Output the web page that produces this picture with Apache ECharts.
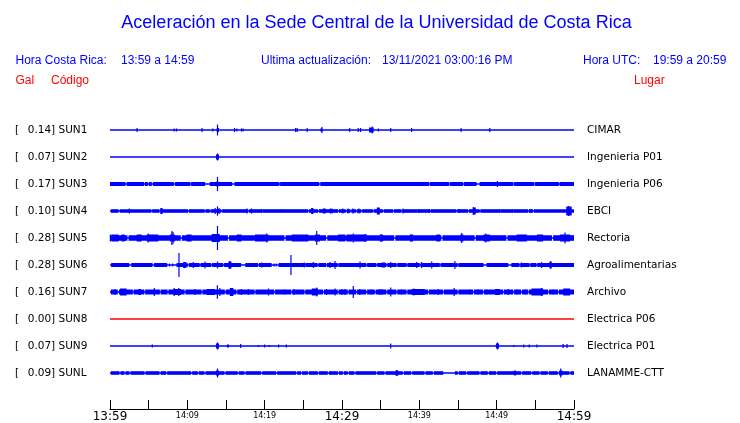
<!DOCTYPE html>
<html>
<head>
<meta charset="utf-8">
<script src="https://cdn.jsdelivr.net/npm/echarts@6/dist/echarts.min.js"></script>
<style>html,body{margin:0;padding:0;background:#fff}#c{width:740px;height:423px}</style>
</head>
<body>
<div id="c"></div>
<script>
// ---- data (time in minutes after 13:59, amplitude in relative units) ----
const codes  = ['SUN1','SUN2','SUN3','SUN4','SUN5','SUN6','SUN7','SUN8','SUN9','SUNL'];
const gal    = [0.14, 0.07, 0.17, 0.10, 0.28, 0.28, 0.16, 0.00, 0.07, 0.09];
const places = ['CIMAR','Ingenieria P01','Ingenieria P06','EBCI','Rectoria','Agroalimentarias','Archivo','Electrica P06','Electrica P01','LANAMME-CTT'];
const tickLabels = ['13:59','14:09','14:19','14:29','14:39','14:49','14:59'];
const noise  = [0, 0, 2.0, 1.8, 2.8, 2.0, 2.5, 0, 0, 1.8];

const SUN1_bursts = [[13.8,14.1,2],[27.2,27.5,1.5],[33.5,34.1,2.5]];
const SUN1_spikes = [[3.5,2],[8.3,1.5],[8.6,1.5],[11.9,2],[13.3,1.5],[13.9,5.5],[16.1,2],[16.4,1.5],[17.0,1.5],[17.2,1.5],[24.0,2],[24.2,2],[25.5,2],[27.4,3],[31.0,2],[32.1,2],[32.4,2],[33.9,3.5],[34.7,1.5],[36.3,2],[39.0,2],[45.4,2],[49.1,2]];

const SUN2_bursts = [[13.7,14.1,2.5]];
const SUN2_spikes = [[13.9,3.5]];

const SUN3_segs = [[0,2.0],[2.15,4.4],[4.5,4.9],[5.0,5.4],[5.55,8.25],[8.4,10.4],[10.5,12.3],[12.9,15.8],[16.1,21.9],[22.0,27.05],[27.2,41.25],[41.35,43.85],[43.95,45.65],[45.75,47.4],[47.8,52.15],[52.25,54.85],[54.95,58.05],[58.15,60]];
const SUN3_bursts = [[13.8,14.0,3]];
const SUN3_spikes = [[13.9,7],[50.1,3]];

const SUN4_segs = [[0.1,1.1],[1.25,5.35],[5.45,6.4],[6.55,10.1],[10.2,12.25],[12.35,12.9],[13.0,14.4],[14.5,17.85],[17.95,19.55],[19.7,22.15],[22.25,25.6],[25.7,26.9],[27.0,29.5],[29.6,30.5],[30.6,31.1],[31.2,31.8],[31.9,32.5],[32.6,34.0],[34.1,35.3],[35.4,36.6],[36.7,37.7],[37.8,39.8],[39.95,41.35],[41.45,42.85],[42.95,44.8],[44.9,46.3],[46.4,47.8],[47.9,50.4],[50.5,52.1],[52.2,54.05],[54.15,54.7],[54.8,60]];
const SUN4_bursts = [[6.5,6.8,3],[26.0,26.3,3],[27.5,27.9,2.5],[34.5,34.9,3.5],[46.9,47.3,3.5],[59.0,59.7,4.5]];
const SUN4_spikes = [[2.5,2.5],[13.6,3],[13.9,4.7],[14.1,3],[17.7,2.5],[18.3,2.5],[19.6,2],[22.2,2],[28.5,2.5],[28.7,2.5],[30.1,2.5],[30.8,2.5],[31.4,2.5],[32.2,2.5],[37.9,2.5],[39.9,2],[41.3,2],[42.9,2],[45.1,2],[47.0,4],[50.4,2],[52.1,2],[54.3,2],[59.3,5]];

const SUN5_segs = [[0,2.25],[2.4,9.15],[9.3,15.25],[15.4,22.55],[22.7,27.95],[28.1,36.75],[36.9,42.85],[43.0,47.15],[47.3,51.25],[51.4,57.15],[57.3,60]];
const SUN5_bursts = [[0.2,1.1,3.5],[1.5,1.9,3.5],[3.45,4.1,3.5],[4.75,6.25,3.5],[7.76,8.4,3.5],[9.9,10.55,3.5],[13.15,14.2,4],[16.4,17.0,3.5],[18.75,20.5,3.5],[23.5,25.65,3.5],[26.5,27.15,3.5],[29.5,30.4,3.5],[30.6,33.2,3.5],[34.9,35.3,3.5],[38.8,39.2,3.5],[42.2,42.7,3.5],[45.3,45.7,3.5],[48.3,49.1,3.5],[52.6,53.9,3.5],[55.2,56.0,3.5],[58.2,59.5,3.5]];
const SUN5_spikes = [[0.05,3.5],[4.96,4.5],[8.0,7],[8.15,6],[13.3,4],[13.9,12],[20.26,4.5],[26.73,7],[31.46,4.5],[33.0,4],[35.0,3.5],[38.9,3.5],[45.48,5],[48.58,4.5],[58.84,5.5]];

const SUN6_segs = [[0.15,2.5],[2.75,5.5],[5.7,7.4],[8.6,10.05],[10.2,11.6],[11.7,13.1],[13.2,14.6],[14.7,16.95],[17.5,19.15],[19.25,20.9],[21.8,25.15],[25.25,26.85],[26.95,27.95],[28.05,29.45],[29.55,33.15],[33.25,34.45],[34.55,35.75],[35.85,37.05],[37.15,38.35],[38.45,40.05],[40.15,42.65],[42.75,44.95],[45.05,48.3],[48.7,51.5],[51.9,52.95],[53.05,54.25],[54.35,55.15],[55.25,60]];
const SUN6_bursts = [[9.5,9.8,3],[15.3,15.7,3.5],[35.1,35.6,2.5],[56.8,57.1,3]];
const SUN6_spikes = [[7.7,1.5],[8.1,1.5],[8.92,12],[9.57,3],[9.8,3],[10.77,3],[12.28,3.5],[13.9,3.5],[15.52,4],[19.62,2.5],[21.2,1.5],[21.5,1.5],[23.4,10],[25.13,2.5],[26.29,3],[28.45,3],[29.1,4],[32.33,3.5],[36.3,3],[39.66,3],[40.3,3],[41.6,3.5],[44.6,4],[53.2,2.5],[55.8,3],[57.0,4]];

const SUN7_segs = [[0.1,1.0],[1.15,2.95],[3.05,4.45],[4.55,6.45],[6.55,7.45],[7.55,9.65],[9.75,11.85],[11.95,14.85],[14.95,16.35],[16.45,18.7],[18.8,21.25],[21.35,23.45],[23.55,25.15],[25.25,27.55],[27.65,29.45],[29.55,30.75],[30.85,31.85],[31.95,33.15],[33.25,34.25],[34.35,35.75],[35.85,37.05],[37.15,38.35],[38.45,41.15],[41.25,43.05],[43.15,44.95],[45.05,46.95],[47.05,48.25],[48.35,50.85],[50.95,52.15],[52.25,53.15],[53.25,54.05],[54.15,56.65],[56.75,57.95],[58.05,60]];
const SUN7_bursts = [[1.3,2.15,3.5],[3.66,4.0,3],[8.2,9.2,3],[12.5,13.6,3],[15.5,15.95,4],[26.1,26.9,3.5],[34.7,35.3,2.5],[39.0,40.7,3],[49.8,50.4,3],[54.5,56.0,3.5],[58.6,59.5,3.5]];
const SUN7_spikes = [[0.65,3],[5.73,4],[8.3,4],[8.9,4],[11.0,3],[13.88,6.7],[14.2,4],[17.0,3],[17.9,3],[20.5,3.5],[22.6,2.5],[23.8,3],[26.73,4.5],[28.0,3],[29.1,3.5],[30.0,3],[30.4,3],[31.46,6],[32.3,3],[33.8,2.5],[36.3,4.5],[37.7,2.5],[39.3,3.5],[42.45,3],[44.5,4],[46.55,2.5],[47.6,2.5],[48.7,2.5],[51.5,3],[52.6,2.5],[53.7,2.5],[55.8,4],[57.3,2.5]];

const SUN9_bursts = [[13.7,14.1,2.5],[15.1,15.4,1.5],[49.9,50.3,2.5]];
const SUN9_spikes = [[5.47,1.5],[13.9,3.5],[16.9,2],[19.2,1],[20.0,1.5],[20.6,1],[21.8,1.5],[22.8,1.5],[36.3,2.5],[50.1,3.5],[52.2,1],[53.5,1.5],[54.2,1.5],[55.2,1.5],[58.6,2],[59.1,2]];

const SUNL_segs = [[0.1,1.22],[1.36,1.87],[2.01,2.52],[2.66,4.46],[4.6,6.4],[6.54,7.26],[7.4,10.49],[10.63,11.35],[11.49,12.21],[12.35,14.8],[14.94,16.52],[16.66,17.39],[17.53,19.54],[19.68,21.48],[21.62,24.07],[24.21,24.71],[24.85,25.58],[25.72,26.87],[27.01,28.16],[28.3,29.46],[29.6,30.1],[30.24,30.75],[30.89,31.61],[31.75,34.42],[34.56,35.49],[35.63,37.86],[38.0,38.94],[39.08,40.66],[40.8,41.74],[41.88,43.1],[44.6,44.97],[45.11,46.05],[46.19,47.77],[47.91,48.85],[48.99,49.93],[50.07,53.16],[53.3,54.46],[54.6,55.53],[55.67,56.61],[56.75,57.9],[58.04,59.41],[59.55,60]];
const SUNL_bursts = [[13.7,14.1,2.5],[36.9,37.3,2.5],[52.2,52.5,2.2],[58.1,58.5,2.5]];
const SUNL_spikes = [[13.9,4.5],[37.07,3],[52.37,2.5],[58.28,4.5]];

const traceSegs   = [[], [], SUN3_segs, SUN4_segs, SUN5_segs, SUN6_segs, SUN7_segs, [], [], SUNL_segs];
const traceBursts = [SUN1_bursts, SUN2_bursts, SUN3_bursts, SUN4_bursts, SUN5_bursts, SUN6_bursts, SUN7_bursts, [], SUN9_bursts, SUNL_bursts];
const traceSpikes = [SUN1_spikes, SUN2_spikes, SUN3_spikes, SUN4_spikes, SUN5_spikes, SUN6_spikes, SUN7_spikes, [], SUN9_spikes, SUNL_spikes];

// ---- chart ----
const BLUE = '#0000ff', RED = '#ff0000';
const FONT = 'DejaVu Sans', HFONT = 'Liberation Sans';
const REF_BAND = 27; // amplitude units per channel spacing

function buildItems(i) {
  const items = [];
  traceSegs[i].forEach(s => items.push([s[0], s[1], noise[i], i]));
  traceBursts[i].forEach(b => items.push([b[0], b[1], b[2], i]));
  traceSpikes[i].forEach(p => items.push([p[0], p[0], p[1], i]));
  return items;
}

function renderTrace(color) {
  return function (params, api) {
    const t0 = api.value(0), t1 = api.value(1), a = api.value(2), idx = api.value(3);
    const p0 = api.coord([t0, idx]);
    const p1 = api.coord([t1, idx]);
    const band = api.size([0, 1])[1];
    const h = a * band / REF_BAND;
    let x = p0[0], w = p1[0] - p0[0];
    if (w < 1.2) { x = p0[0] - 0.6; w = 1.2; }
    return { type: 'rect', shape: { x: x, y: p0[1] - h, width: w, height: 2 * h }, style: { fill: color } };
  };
}

const series = [];
codes.forEach((c, i) => {
  const color = gal[i] === 0 ? RED : BLUE;
  series.push({
    type: 'line', name: c + '-base', data: [[0, i], [60, i]], symbol: 'none', silent: true,
    lineStyle: { color: color, width: 1.5 }, animation: false
  });
  series.push({
    type: 'custom', name: c, data: buildItems(i), renderItem: renderTrace(color),
    encode: { x: [0, 1], y: 3 }, animation: false, silent: true
  });
});

const chart = echarts.init(document.getElementById('c'), null, { renderer: 'canvas' });
chart.setOption({
  animation: false,
  backgroundColor: '#fff',
  grid: { left: 110, right: 166, top: 116.5, bottom: 36.5 },
  xAxis: {
    type: 'value', min: 0, max: 60, interval: 5, offset: 22.5,
    axisLine: { show: true, lineStyle: { color: '#000', width: 1 } },
    axisTick: { show: true, inside: true, length: 9, lineStyle: { color: '#000', width: 1 } },
    splitLine: { show: false },
    axisLabel: {
      margin: 2, showMinLabel: true, showMaxLabel: true, hideOverlap: false,
      formatter: function (v) {
        if (v % 30 === 0) return '{big|' + tickLabels[v / 10] + '}';
        if (v % 10 === 0) return '{small|' + tickLabels[v / 10] + '}';
        return '';
      },
      rich: {
        big: { fontFamily: FONT, fontSize: 12, color: '#000' },
        small: { fontFamily: FONT, fontSize: 8, color: '#000', padding: [1, 0, 0, 0] }
      }
    }
  },
  yAxis: [{
    type: 'category', data: codes, inverse: true,
    axisLine: { show: false }, axisTick: { show: false }, splitLine: { show: false },
    axisLabel: {
      margin: 95, align: 'left',
      formatter: function (v, i) { return '{br|[}{v|' + gal[i].toFixed(2) + '] ' + v + '}'; },
      rich: {
        br: { fontFamily: FONT, fontSize: 10.5, color: '#000', width: 12.7 },
        v: { fontFamily: FONT, fontSize: 10.5, color: '#000' }
      }
    }
  }, {
    type: 'category', data: places, inverse: true, position: 'right',
    axisLine: { show: false }, axisTick: { show: false }, splitLine: { show: false },
    axisLabel: { margin: 13, align: 'left', fontFamily: FONT, fontSize: 10.5, color: '#000' }
  }],
  graphic: [
    { type: 'text', x: 376.5, y: 23, style: { text: 'Aceleración en la Sede Central de la Universidad de Costa Rica', fill: BLUE, font: '18px "' + HFONT + '"', textAlign: 'center', textVerticalAlign: 'middle' } },
    { type: 'text', x: 15.5, y: 61, style: { text: 'Hora Costa Rica:', fill: BLUE, font: '12px "' + HFONT + '"', textVerticalAlign: 'middle' } },
    { type: 'text', x: 121, y: 61, style: { text: '13:59 a 14:59', fill: BLUE, font: '12px "' + HFONT + '"', textVerticalAlign: 'middle' } },
    { type: 'text', x: 261, y: 61, style: { text: 'Ultima actualización:', fill: BLUE, font: '12px "' + HFONT + '"', textVerticalAlign: 'middle' } },
    { type: 'text', x: 382, y: 61, style: { text: '13/11/2021 03:00:16 PM', fill: BLUE, font: '12px "' + HFONT + '"', textVerticalAlign: 'middle' } },
    { type: 'text', x: 583, y: 61, style: { text: 'Hora UTC:', fill: BLUE, font: '12px "' + HFONT + '"', textVerticalAlign: 'middle' } },
    { type: 'text', x: 653, y: 61, style: { text: '19:59 a 20:59', fill: BLUE, font: '12px "' + HFONT + '"', textVerticalAlign: 'middle' } },
    { type: 'text', x: 15.5, y: 81, style: { text: 'Gal', fill: RED, font: '12px "' + HFONT + '"', textVerticalAlign: 'middle' } },
    { type: 'text', x: 51, y: 81, style: { text: 'Código', fill: RED, font: '12px "' + HFONT + '"', textVerticalAlign: 'middle' } },
    { type: 'text', x: 634, y: 81, style: { text: 'Lugar', fill: RED, font: '12px "' + HFONT + '"', textVerticalAlign: 'middle' } }
  ],
  series: series
});
</script>
</body>
</html>
